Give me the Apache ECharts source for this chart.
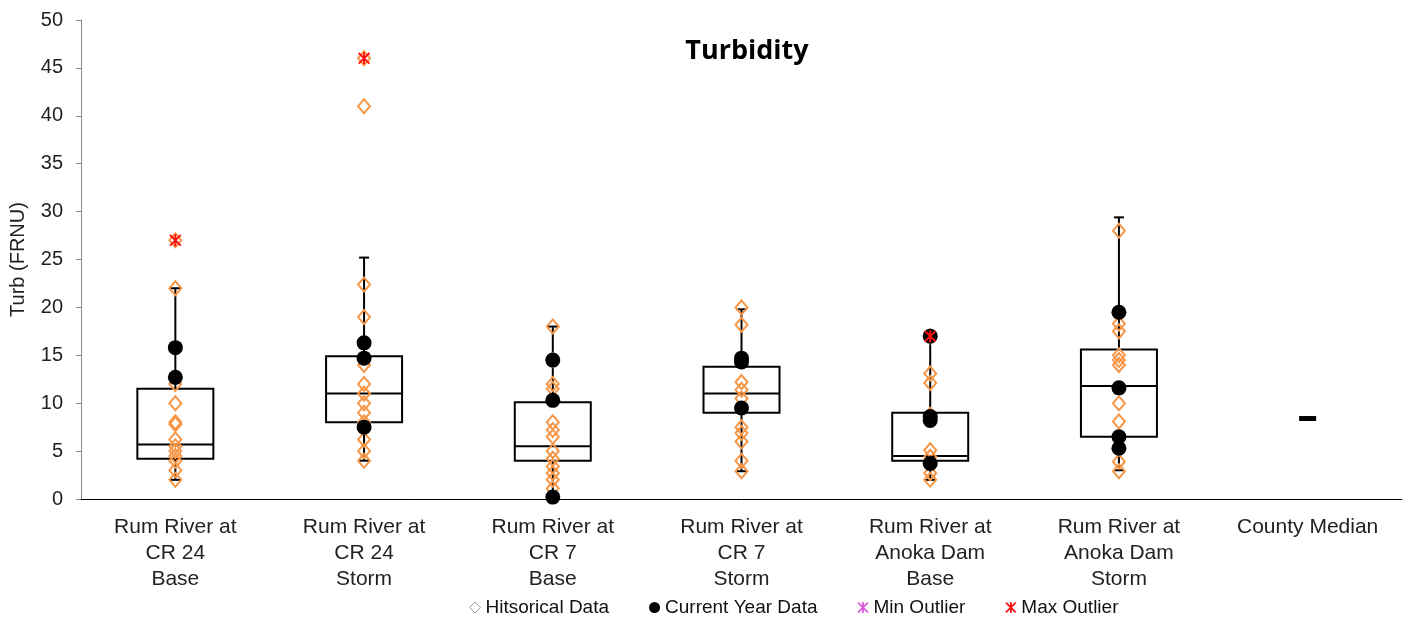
<!DOCTYPE html>
<html>
<head>
<meta charset="utf-8">
<script src="https://cdn.jsdelivr.net/npm/echarts@6/dist/echarts.min.js"></script>
<style>
  html, body { margin: 0; padding: 0; background: #fff; }
  #chart { width: 1411px; height: 617px; }
</style>
</head>
<body>
<div id="chart"></div>
<script>
// categories along the x axis
const categories = [
  'Rum River at\nCR 24\nBase',
  'Rum River at\nCR 24\nStorm',
  'Rum River at\nCR 7\nBase',
  'Rum River at\nCR 7\nStorm',
  'Rum River at\nAnoka Dam\nBase',
  'Rum River at\nAnoka Dam\nStorm',
  'County Median'
];
const yTicks = [0, 5, 10, 15, 20, 25, 30, 35, 40, 45, 50];

// box stats per site: [low whisker, q1, median, q3, high whisker]
const boxStats = [
  [2.0, 4.2, 5.7, 11.5, 22.0],
  [4.0, 8.0, 11.0, 14.9, 25.2],
  [0.2, 4.0, 5.5, 10.1, 18.0],
  [2.9, 9.0, 11.0, 13.8, 19.8],
  [2.0, 4.0, 4.5, 9.0, 17.0],
  [3.0, 6.5, 11.8, 15.6, 29.4]
];

// historical values per site
const historical = [
  [27, 22, 12, 10, 8, 7.8, 6.2, 5.5, 5, 4.5, 4, 3, 2],
  [46, 41, 22.4, 19, 14, 12, 11, 10, 9, 8, 6.2, 5, 4],
  [18, 14.5, 12, 11.5, 8, 7.2, 6.5, 5, 4.2, 3.4, 2.7, 2, 1.1],
  [20, 18.2, 12.2, 11.4, 10.5, 7.5, 6.9, 6, 4, 2.9],
  [17, 13.1, 12.1, 8.8, 5.1, 4.4, 2.7, 2],
  [28, 18.3, 17.5, 15, 14.5, 14, 10, 8.1, 3.9, 2.9]
];

// current year values per site
const currentYear = [
  [15.8, 12.7],
  [16.3, 14.7, 7.5],
  [14.5, 10.3, 0.2],
  [14.7, 14.3, 9.5],
  [17, 8.6, 8.2, 3.7],
  [19.5, 11.6, 6.5, 5.3]
];

const minOutliers = [null, null, null, null, null, null];
const maxOutliers = [27, 46, null, null, 17, null];
const countyMedian = 8.4;

// helpers
function toPoints(lists) {
  const out = [];
  lists.forEach((vals, i) => vals.forEach(v => out.push([i, v])));
  return out;
}
function toSingle(vals) {
  const out = [];
  vals.forEach((v, i) => { if (v !== null) out.push([i, v]); });
  return out;
}

const starPath = 'path://M4.2 0H5.8V10H4.2Z M0 1.1L1.1 0L10 8.9L8.9 10Z M8.9 0L10 1.1L1.1 10L0 8.9Z';
const font = '"Liberation Sans", Arial, sans-serif';

function renderBox(params, api) {
  const x = api.value(0);
  const lo = api.coord([x, api.value(1)]);
  const q1 = api.coord([x, api.value(2)]);
  const med = api.coord([x, api.value(3)]);
  const q3 = api.coord([x, api.value(4)]);
  const hi = api.coord([x, api.value(5)]);
  const cx = lo[0], half = 38, cap = 5;
  const ls = { stroke: '#000', lineWidth: 2 };
  return {
    type: 'group',
    children: [
      { type: 'line', shape: { x1: cx, y1: q1[1], x2: cx, y2: lo[1] }, style: ls },
      { type: 'line', shape: { x1: cx - cap, y1: lo[1], x2: cx + cap, y2: lo[1] }, style: ls },
      { type: 'line', shape: { x1: cx, y1: q3[1], x2: cx, y2: hi[1] }, style: ls },
      { type: 'line', shape: { x1: cx - cap, y1: hi[1], x2: cx + cap, y2: hi[1] }, style: ls },
      { type: 'rect', shape: { x: cx - half, y: q3[1], width: half * 2, height: q1[1] - q3[1] },
        style: { fill: '#fff', stroke: '#000', lineWidth: 2 } },
      { type: 'line', shape: { x1: cx - half, y1: med[1], x2: cx + half, y2: med[1] }, style: ls }
    ]
  };
}

const chart = echarts.init(document.getElementById('chart'));
chart.setOption({
  animation: false,
  title: {
    text: 'Turbidity',
    left: 742, top: 33, textAlign: 'center',
    textStyle: { fontFamily: '"Open Sans", sans-serif', fontWeight: 'bold', fontSize: 27, color: '#000' }
  },
  legend: {
    top: 593, left: 464,
    itemWidth: 11, itemHeight: 11, itemGap: 40,
    textStyle: { fontFamily: font, fontSize: 19, color: '#111' },
    data: [
      { name: 'Hitsorical Data', icon: 'diamond', itemStyle: { color: '#fff', borderColor: '#999', borderWidth: 1 } },
      { name: 'Current Year Data', icon: 'circle', itemStyle: { color: '#000' } },
      { name: 'Min Outlier', icon: starPath, itemStyle: { color: '#D030D0' } },
      { name: 'Max Outlier', icon: starPath, itemStyle: { color: '#FF1010' } }
    ]
  },
  grid: { left: 81, right: 9, top: 20, bottom: 118, outerBoundsMode: 'none', containLabel: false },
  xAxis: {
    type: 'category',
    data: categories,
    axisLine: { lineStyle: { color: '#000', width: 1 } },
    axisTick: { length: 6, lineStyle: { color: '#000' } },
    axisLabel: { interval: 0, fontFamily: font, fontSize: 21, lineHeight: 26, color: '#222', margin: 15 },
    splitLine: { show: false }
  },
  yAxis: {
    type: 'value',
    min: yTicks[0], max: yTicks[yTicks.length - 1], interval: 5,
    name: 'Turb (FRNU)', nameLocation: 'middle', nameGap: 53,
    nameTextStyle: { fontFamily: font, fontSize: 20, color: '#222' },
    axisLine: { show: true, lineStyle: { color: '#888' } },
    axisTick: { show: true, length: 5, lineStyle: { color: '#888' } },
    axisLabel: { fontFamily: font, fontSize: 20, color: '#222', margin: 18 },
    splitLine: { show: false }
  },
  series: [
    {
      type: 'custom',
      name: 'box',
      renderItem: renderBox,
      encode: { x: 0, y: [1, 2, 3, 4, 5] },
      data: boxStats.map((s, i) => [i].concat(s)),
      z: 1
    },
    {
      type: 'scatter', name: 'Hitsorical Data',
      data: toPoints(historical),
      symbol: 'diamond', symbolSize: [12, 14],
      itemStyle: { color: 'rgba(255,255,255,0)', borderColor: '#F79646', borderWidth: 2, opacity: 1 },
      z: 2
    },
    {
      type: 'scatter', name: 'Current Year Data',
      data: toPoints(currentYear),
      symbol: 'circle', symbolSize: 15,
      itemStyle: { color: '#000', opacity: 1 },
      z: 3
    },
    {
      type: 'scatter', name: 'Min Outlier',
      data: toSingle(minOutliers),
      symbol: starPath, symbolSize: 11,
      itemStyle: { color: '#D030D0' },
      z: 4
    },
    {
      type: 'scatter', name: 'Max Outlier',
      data: toSingle(maxOutliers),
      symbol: starPath, symbolSize: 12,
      itemStyle: { color: '#FF1010', opacity: 1 },
      z: 4
    },
    {
      type: 'scatter', name: 'County Median',
      data: [[6, countyMedian]],
      symbol: 'rect', symbolSize: [17, 5],
      itemStyle: { color: '#000', opacity: 1 },
      z: 3
    }
  ]
});
</script>
</body>
</html>
